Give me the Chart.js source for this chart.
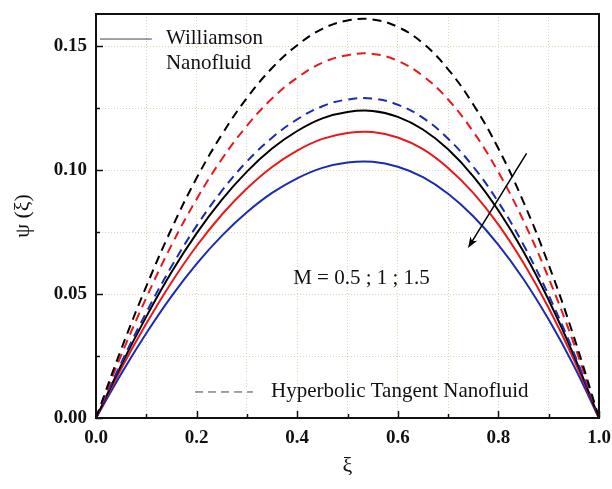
<!DOCTYPE html>
<html>
<head>
<meta charset="utf-8">
<script src="https://cdn.jsdelivr.net/npm/chart.js@4"></script>
<style>
  body { margin: 0; background: #fff; }
  #wrap { width: 612px; height: 489px; }
</style>
</head>
<body>
<div id="wrap"><canvas id="myChart" width="612" height="489"></canvas></div>
<script>
// xi positions
const xi = [0, 0.05, 0.1, 0.15, 0.2, 0.25, 0.3, 0.35, 0.4, 0.45, 0.5, 0.55, 0.6, 0.65, 0.7, 0.75, 0.8, 0.85, 0.9, 0.95, 1];

// Williamson (solid) M = 0.5 ; 1 ; 1.5
const willM05 = [0, 0.0213, 0.0409, 0.0588, 0.0745, 0.0880, 0.0994, 0.1087, 0.1158, 0.1209, 0.1235, 0.1239, 0.1215, 0.1164, 0.1084, 0.0975, 0.0837, 0.0671, 0.0476, 0.0253, 0];
const willM1 = [0, 0.0199, 0.0381, 0.0547, 0.0694, 0.0820, 0.0926, 0.1013, 0.1079, 0.1126, 0.1150, 0.1154, 0.1132, 0.1085, 0.1009, 0.0908, 0.0780, 0.0625, 0.0444, 0.0236, 0];
const willM15 = [0, 0.0178, 0.0342, 0.0491, 0.0622, 0.0735, 0.0830, 0.0908, 0.0967, 0.1009, 0.1031, 0.1034, 0.1014, 0.0972, 0.0905, 0.0814, 0.0699, 0.0560, 0.0397, 0.0211, 0];

// Hyperbolic tangent (dashed)
const hypM05 = [0, 0.0277, 0.0531, 0.0763, 0.0968, 0.1143, 0.1291, 0.1412, 0.1504, 0.1570, 0.1604, 0.1608, 0.1578, 0.1512, 0.1407, 0.1265, 0.1087, 0.0871, 0.0618, 0.0328, 0];
const hypM1 = [0, 0.0253, 0.0485, 0.0697, 0.0883, 0.1044, 0.1179, 0.1289, 0.1373, 0.1433, 0.1464, 0.1469, 0.1441, 0.1380, 0.1285, 0.1155, 0.0992, 0.0795, 0.0564, 0.0300, 0];
const hypM15 = [0, 0.0222, 0.0426, 0.0611, 0.0775, 0.0916, 0.1035, 0.1131, 0.1205, 0.1258, 0.1285, 0.1289, 0.1264, 0.1211, 0.1127, 0.1014, 0.0871, 0.0698, 0.0495, 0.0263, 0];

const xTicks = [0, 0.1, 0.2, 0.3, 0.4, 0.5, 0.6, 0.7, 0.8, 0.9, 1.0];
const yTicks = [0, 0.025, 0.05, 0.075, 0.1, 0.125, 0.15];

const BLACK = '#000000', RED = '#e8191c', BLUE = '#1a2cb0';
const serif = "'Liberation Serif', 'Times New Roman', serif";

function pts(ys) {
    return xi.map((x, i) => ({ x: x, y: ys[i] }));
}

function line(ys, color, dashed) {
    return {
        data: pts(ys),
        borderColor: color,
        borderWidth: 2,
        borderDash: dashed ? [9, 6] : [],
        pointRadius: 0,
        fill: false,
        tension: 0.4
    };
}

// box, inward ticks and the notes
const extras = {
    id: 'extras',
    afterDraw(chart) {
        const ctx = chart.ctx;
        const a = chart.chartArea;
        const sx = chart.scales.x, sy = chart.scales.y;
        const px = v => sx.getPixelForValue(v);
        const py = v => sy.getPixelForValue(v);
        ctx.save();

        // ticks
        ctx.strokeStyle = '#111';
        ctx.lineWidth = 1.5;
        xTicks.forEach((t, i) => {
            const len = i % 2 === 0 ? 7 : 4;
            const x = Math.round(px(t)) + 0.5;
            ctx.beginPath();
            ctx.moveTo(x, a.bottom);
            ctx.lineTo(x, a.bottom - len);
            ctx.stroke();
        });
        yTicks.forEach((t, i) => {
            const len = i % 2 === 0 ? 7 : 4;
            const y = Math.round(py(t)) + 0.5;
            ctx.beginPath();
            ctx.moveTo(a.left, y);
            ctx.lineTo(a.left + len, y);
            ctx.stroke();
        });

        // frame
        ctx.lineWidth = 2;
        ctx.strokeStyle = '#111';
        ctx.strokeRect(a.left, a.top, a.right - a.left, a.bottom - a.top);

        // legend notes
        ctx.font = '21px ' + serif;
        ctx.fillStyle = '#111';
        ctx.textBaseline = 'middle';
        ctx.textAlign = 'left';

        ctx.strokeStyle = '#444';
        ctx.lineWidth = 1;
        ctx.beginPath();
        ctx.moveTo(px(0.008), py(0.1529));
        ctx.lineTo(px(0.111), py(0.1529));
        ctx.stroke();
        ctx.fillText('Williamson', px(0.139), py(0.1533));
        ctx.fillText('Nanofluid', px(0.139), py(0.1432));

        ctx.setLineDash([8, 5]);
        ctx.beginPath();
        ctx.moveTo(px(0.197), py(0.0105));
        ctx.lineTo(px(0.312), py(0.0105));
        ctx.stroke();
        ctx.setLineDash([]);
        ctx.fillText('Hyperbolic Tangent Nanofluid', px(0.348), py(0.0105));

        ctx.fillText('M = 0.5 ; 1 ; 1.5', px(0.392), py(0.0561));

        // arrow
        const x1 = px(0.856), y1 = py(0.1068), x2 = px(0.7396), y2 = py(0.0686);
        const ang = Math.atan2(y2 - y1, x2 - x1);
        ctx.strokeStyle = '#000';
        ctx.lineWidth = 1.5;
        ctx.beginPath();
        ctx.moveTo(x1, y1);
        ctx.lineTo(x2 - 6 * Math.cos(ang), y2 - 6 * Math.sin(ang));
        ctx.stroke();
        ctx.fillStyle = '#000';
        ctx.beginPath();
        ctx.moveTo(x2, y2);
        ctx.lineTo(x2 - 11 * Math.cos(ang) + 4 * Math.sin(ang), y2 - 11 * Math.sin(ang) - 4 * Math.cos(ang));
        ctx.lineTo(x2 - 8 * Math.cos(ang), y2 - 8 * Math.sin(ang));
        ctx.lineTo(x2 - 11 * Math.cos(ang) - 4 * Math.sin(ang), y2 - 11 * Math.sin(ang) + 4 * Math.cos(ang));
        ctx.closePath();
        ctx.fill();

        ctx.restore();
    }
};

const ctx = document.getElementById('myChart').getContext('2d');
new Chart(ctx, {
    type: 'line',
    data: {
        datasets: [
            line(hypM05, BLACK, true),
            line(hypM1, RED, true),
            line(hypM15, BLUE, true),
            line(willM05, BLACK, false),
            line(willM1, RED, false),
            line(willM15, BLUE, false)
        ]
    },
    options: {
        responsive: false,
        animation: false,
        layout: { padding: { left: 0, right: 13, top: 14, bottom: 0 } },
        plugins: {
            legend: { display: false },
            tooltip: { enabled: false }
        },
        scales: {
            x: {
                type: 'linear',
                min: 0,
                max: 1,
                afterBuildTicks: s => { s.ticks = xTicks.map(v => ({ value: v })); },
                afterFit: s => { s.height = 71; s.paddingLeft = 0; s.paddingRight = 0; },
                grid: { color: '#e6d3ad', lineWidth: 1, drawTicks: false },
                border: { display: false, dash: [1, 2] },
                ticks: {
                    padding: 9,
                    color: '#111',
                    font: { family: serif, size: 19, weight: 'bold' },
                    callback: v => (Math.round(v * 10) % 2 === 0 ? v.toFixed(1) : '')
                },
                title: {
                    display: true,
                    text: 'ξ',
                    color: '#111',
                    font: { family: serif, size: 22 },
                    padding: { top: 0, bottom: 10 }
                }
            },
            y: {
                type: 'linear',
                min: 0,
                max: 0.163,
                afterBuildTicks: s => { s.ticks = yTicks.map(v => ({ value: v })); },
                afterFit: s => { s.width = 96; s.paddingTop = 0; s.paddingBottom = 0; },
                grid: { color: '#e6d3ad', lineWidth: 1, drawTicks: false },
                border: { display: false, dash: [1, 2] },
                ticks: {
                    padding: 9,
                    color: '#111',
                    font: { family: serif, size: 19, weight: 'bold' },
                    callback: v => (Math.round(v * 1000) % 50 === 0 ? v.toFixed(2) : '')
                },
                title: {
                    display: true,
                    text: 'ψ (ξ)',
                    color: '#111',
                    font: { family: serif, size: 22 },
                    padding: { top: 10, bottom: 0 }
                }
            }
        }
    },
    plugins: [extras]
});
</script>
</body>
</html>
